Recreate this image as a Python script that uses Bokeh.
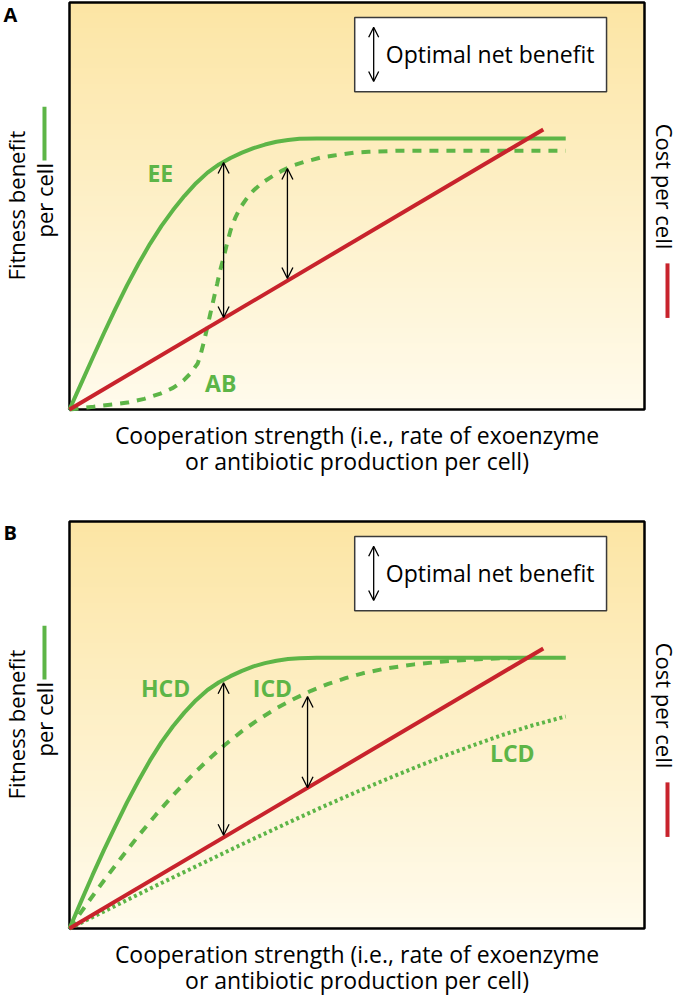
import math
import numpy as np
from bokeh.plotting import figure
from bokeh.models import Range1d, Label, Arrow, OpenHead, BoxAnnotation, ColumnDataSource
from bokeh.layouts import column
from bokeh.embed import file_html
from bokeh.resources import INLINE

# ---------------- data (x, y in 0..1 box units) ----------------
# Panel A: exoenzyme (EE, solid), antibiotic (AB, dashed), cost (red)
ee_x = [0.0, 0.02, 0.04, 0.06, 0.08, 0.10, 0.12, 0.14, 0.16, 0.18, 0.20, 0.22, 0.24, 0.26, 0.28,
        0.30, 0.32, 0.34, 0.36, 0.38, 0.40, 0.43, 0.863]
ee_y = [0.0, 0.063, 0.126, 0.188, 0.248, 0.305, 0.358, 0.407, 0.451, 0.490, 0.525, 0.556, 0.582,
        0.602, 0.618, 0.631, 0.642, 0.651, 0.658, 0.662, 0.665, 0.666, 0.666]
ab_x = [0.0, 0.042, 0.101, 0.130, 0.158, 0.180, 0.198, 0.210, 0.223, 0.228, 0.233, 0.239, 0.245,
        0.251, 0.257, 0.262, 0.268, 0.274, 0.280, 0.288, 0.297, 0.308, 0.320, 0.335, 0.355, 0.370,
        0.390, 0.410, 0.437, 0.460, 0.494, 0.520, 0.576, 0.600, 0.863]
ab_y = [0.0, 0.007, 0.017, 0.026, 0.039, 0.053, 0.071, 0.088, 0.113, 0.135, 0.162, 0.198, 0.236,
        0.273, 0.310, 0.342, 0.373, 0.408, 0.440, 0.470, 0.496, 0.518, 0.538, 0.557, 0.575, 0.587,
        0.600, 0.609, 0.619, 0.624, 0.631, 0.633, 0.636, 0.636, 0.636]
costA_x = [0.0, 0.824]
costA_y = [0.0, 0.688]
arrowA_x = [0.268, 0.379]
arrowA_top = [0.607, 0.592]
arrowA_bottom = [0.226, 0.322]

# Panel B: high (HCD, solid), intermediate (ICD, dashed), low (LCD, dotted) cell density
hcd_x = [0.0, 0.02, 0.04, 0.06, 0.08, 0.10, 0.12, 0.14, 0.16, 0.18, 0.20, 0.22, 0.24, 0.26, 0.28,
         0.30, 0.32, 0.34, 0.36, 0.38, 0.40, 0.43, 0.863]
hcd_y = [0.0, 0.066, 0.131, 0.193, 0.252, 0.310, 0.363, 0.413, 0.458, 0.497, 0.531, 0.561, 0.586,
         0.605, 0.620, 0.633, 0.644, 0.652, 0.658, 0.662, 0.664, 0.665, 0.665]
icd_x = [0.0, 0.03, 0.06, 0.09, 0.12, 0.15, 0.18, 0.21, 0.24, 0.27, 0.30, 0.33, 0.36, 0.39, 0.42,
         0.45, 0.48, 0.51, 0.55, 0.60, 0.65, 0.70, 0.75, 0.80]
icd_y = [0.0, 0.060, 0.118, 0.174, 0.228, 0.279, 0.327, 0.372, 0.413, 0.451, 0.485, 0.515, 0.541,
         0.564, 0.584, 0.601, 0.615, 0.627, 0.639, 0.649, 0.656, 0.661, 0.664, 0.665]
lcd_x = [0.0, 0.05, 0.10, 0.15, 0.20, 0.25, 0.30, 0.35, 0.40, 0.45, 0.50, 0.55, 0.60, 0.65, 0.70,
         0.75, 0.80, 0.863]
lcd_y = [0.0, 0.035, 0.070, 0.105, 0.139, 0.173, 0.207, 0.240, 0.273, 0.305, 0.336, 0.366, 0.395,
         0.423, 0.449, 0.474, 0.497, 0.521]
costB_x = [0.0, 0.824]
costB_y = [0.0, 0.688]
arrowB_x = [0.268, 0.414]
arrowB_top = [0.604, 0.570]
arrowB_bottom = [0.229, 0.346]

panel_letters = ["A", "B"]
curve_labels_A = ["EE", "AB"]
curve_labels_B = ["HCD", "ICD", "LCD"]
legend_text = "Optimal net benefit"
xlabel_lines = ["Cooperation strength (i.e., rate of exoenzyme", "or antibiotic production per cell)"]
ylabel_left = ["Fitness benefit", "per cell"]
ylabel_right = "Cost per cell"

# ---------------- style ----------------
GREEN = "#5DB547"
RED = "#C8232C"
FONT = "Open Sans"
TOP_BG = np.array([252, 229, 164])
BOT_BG = np.array([255, 251, 236])
XLBL_SIZE = "23px"
YLBL_SIZE = "22px"
W = 680
PX_PER_X = 575.0   # box width in pixels
PX_PER_Y = 407.0   # box height in pixels
BOX_LEFT = 69.0


def make_panel(height, box_top, letter, letter_y):
    box_bottom = box_top + PX_PER_Y
    x0 = -BOX_LEFT / PX_PER_X
    x1 = 1 + (W - BOX_LEFT - PX_PER_X) / PX_PER_X
    y1 = 1 + box_top / PX_PER_Y
    y0 = -(height - box_bottom) / PX_PER_Y
    p = figure(width=W, height=height, x_range=Range1d(x0, x1), y_range=Range1d(y0, y1),
               output_backend="svg", toolbar_location=None, title=None,
               min_border=0, min_border_left=0, min_border_right=0,
               min_border_top=0, min_border_bottom=0)
    p.xaxis.visible = False
    p.yaxis.visible = False
    p.xgrid.visible = False
    p.ygrid.visible = False
    p.background_fill_color = "white"
    p.border_fill_color = "white"
    p.outline_line_color = None

    # vertical gradient background inside the box
    n = 80
    edges = np.linspace(0, 1, n + 1)
    cols = []
    for i in range(n):
        t = (edges[i] + edges[i + 1]) / 2
        c = BOT_BG + (TOP_BG - BOT_BG) * t
        cols.append("#%02x%02x%02x" % tuple(int(round(v)) for v in c))
    p.quad(left=0, right=1, bottom=edges[:-1], top=np.minimum(edges[1:] + 0.004, 1.0),
           fill_color=cols, line_color=None)
    # box frame
    p.quad(left=[0], right=[1], bottom=[0], top=[1], fill_color=None,
           line_color="black", line_width=2.5)

    # panel letter
    p.add_layout(Label(x=-0.1148, y=letter_y, text=letter, text_font=FONT, text_font_style="bold",
                       text_font_size="20px", text_color="black",
                       text_align="left", text_baseline="middle"))

    # legend box
    p.add_layout(BoxAnnotation(left=0.496, right=0.934, bottom=0.781, top=0.963,
                               fill_color="white", fill_alpha=1.0,
                               line_color="#3a3a3a", line_width=1.5, line_alpha=1.0))
    p.add_layout(Arrow(x_start=0.529, y_start=0.806, x_end=0.529, y_end=0.939,
                       start=OpenHead(size=10, line_width=1.3, line_color="black"),
                       end=OpenHead(size=10, line_width=1.3, line_color="black"),
                       line_width=1.3, line_color="black"))
    p.add_layout(Label(x=0.550, y=0.873, text=legend_text, text_font=FONT,
                       text_font_size="23px", text_color="black",
                       text_align="left", text_baseline="middle"))

    # x label (two lines)
    p.add_layout(Label(x=0.5, y=-0.062, text=xlabel_lines[0], text_font=FONT,
                       text_font_size=XLBL_SIZE, text_color="black",
                       text_align="center", text_baseline="alphabetic"))
    p.add_layout(Label(x=0.5, y=-0.127, text=xlabel_lines[1], text_font=FONT,
                       text_font_size=XLBL_SIZE, text_color="black",
                       text_align="center", text_baseline="alphabetic"))

    # left y label with green key line
    p.add_layout(Label(x=-0.0939, y=0.501, text=ylabel_left[0], text_font=FONT,
                       text_font_size=YLBL_SIZE, text_color="black", angle=math.pi / 2,
                       text_align="center", text_baseline="middle"))
    p.add_layout(Label(x=-0.0435, y=0.514, text=ylabel_left[1], text_font=FONT,
                       text_font_size=YLBL_SIZE, text_color="black", angle=math.pi / 2,
                       text_align="center", text_baseline="middle"))
    p.add_layout(Arrow(x_start=-0.0435, y_start=0.612, x_end=-0.0435, y_end=0.744,
                       start=None, end=None, line_color=GREEN, line_width=4))

    # right y label with red key line
    p.add_layout(Label(x=1.0348, y=0.548, text=ylabel_right, text_font=FONT,
                       text_font_size=YLBL_SIZE, text_color="black", angle=-math.pi / 2,
                       text_align="center", text_baseline="middle"))
    p.add_layout(Arrow(x_start=1.0400, y_start=0.225, x_end=1.0400, y_end=0.359,
                       start=None, end=None, line_color=RED, line_width=4))
    return p


def add_arrows(p, xs, tops, bottoms):
    src = ColumnDataSource(dict(x=xs, y0=bottoms, y1=tops))
    p.add_layout(Arrow(x_start="x", y_start="y0", x_end="x", y_end="y1", source=src,
                       start=OpenHead(size=11, line_width=1.3, line_color="black"),
                       end=OpenHead(size=11, line_width=1.3, line_color="black"),
                       line_width=1.3, line_color="black"))


def curve_label(p, x, y, text):
    p.add_layout(Label(x=x, y=y, text=text, text_font=FONT, text_font_style="bold",
                       text_font_size="23px", text_color=GREEN,
                       text_align="center", text_baseline="middle"))


# ---------------- Panel A ----------------
pA = make_panel(500, 2, panel_letters[0], 0.9705)
pA.line(ab_x, ab_y, line_color=GREEN, line_width=4, line_dash="9 8", line_cap="butt")
pA.line(ee_x, ee_y, line_color=GREEN, line_width=4)
pA.line(costA_x, costA_y, line_color=RED, line_width=4)
add_arrows(pA, arrowA_x, arrowA_top, arrowA_bottom)
curve_label(pA, 0.158, 0.582, curve_labels_A[0])
curve_label(pA, 0.263, 0.066, curve_labels_A[1])

# ---------------- Panel B ----------------
pB = make_panel(497, 21, panel_letters[1], 0.973)
pB.line(lcd_x, lcd_y, line_color=GREEN, line_width=4, line_dash="3 3", line_cap="butt")
pB.line(icd_x, icd_y, line_color=GREEN, line_width=4, line_dash="9 8", line_cap="butt")
pB.line(hcd_x, hcd_y, line_color=GREEN, line_width=4)
pB.line(costB_x, costB_y, line_color=RED, line_width=4)
add_arrows(pB, arrowB_x, arrowB_top, arrowB_bottom)
curve_label(pB, 0.167, 0.592, curve_labels_B[0])
curve_label(pB, 0.353, 0.592, curve_labels_B[1])
curve_label(pB, 0.770, 0.432, curve_labels_B[2])

layout = column(pA, pB, spacing=0)
open("out.html", "w").write(file_html(layout, INLINE))
